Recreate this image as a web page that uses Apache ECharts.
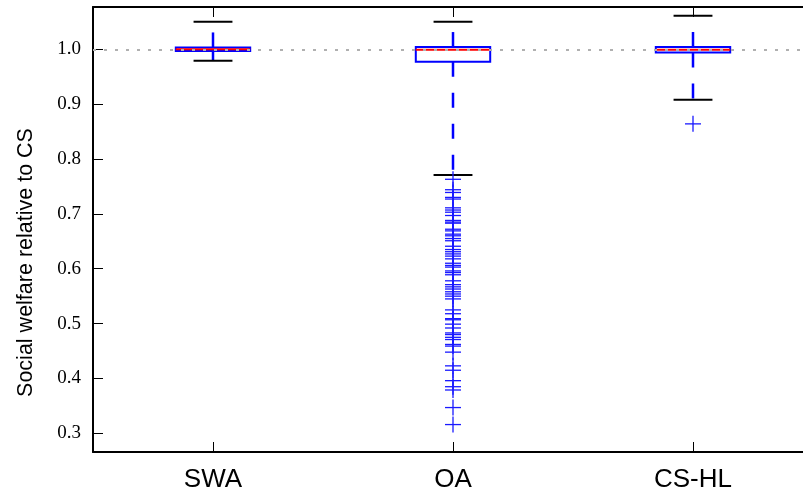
<!DOCTYPE html>
<html>
<head>
<meta charset="utf-8">
<script src="https://cdn.jsdelivr.net/npm/echarts@6/dist/echarts.min.js"></script>
<style>
html,body{margin:0;padding:0;background:#fff;}
#chart{width:803px;height:497px;}
</style>
</head>
<body>
<div id="chart"></div>
<script>
// ---- data ----
const categories = ['SWA', 'OA', 'CS-HL'];
const whiskerLow  = [0.979, 0.771, 0.908];
const q1          = [0.9967, 0.977, 0.994];
const median      = [1.000, 0.999, 0.999];
const q3          = [1.0033, 1.004, 1.004];
const whiskerHigh = [1.050, 1.050, 1.061];
const outliersSWA = [];
const outliersOA = [
  0.763, 0.744, 0.739, 0.730, 0.727, 0.711, 0.707, 0.703, 0.697, 0.688,
  0.685, 0.683, 0.672, 0.669, 0.663, 0.660, 0.655, 0.651, 0.641, 0.635,
  0.631, 0.627, 0.623, 0.618, 0.610, 0.606, 0.603, 0.596, 0.593, 0.589,
  0.578, 0.571, 0.567, 0.563, 0.558, 0.554, 0.550, 0.545, 0.525, 0.518,
  0.509, 0.507, 0.499, 0.492, 0.483, 0.480, 0.475, 0.471, 0.462, 0.459,
  0.448, 0.423, 0.415, 0.396, 0.385, 0.379, 0.347, 0.316
];
const outliersCSHL = [0.864];
const yTickValues = [0.3, 0.4, 0.5, 0.6, 0.7, 0.8, 0.9, 1.0];
const yMin = 0.266, yMax = 1.077;
const referenceValue = 1.0;
const yTitle = 'Social welfare relative to CS';

// ---- build ----
const boxData = categories.map((c, i) => [i, whiskerLow[i], q1[i], median[i], q3[i], whiskerHigh[i]]);
const outlierData = [];
[outliersSWA, outliersOA, outliersCSHL].forEach((arr, i) => arr.forEach(v => outlierData.push([i, v])));

function renderBox(params, api) {
  const idx = api.value(0);
  const band = api.size([1, 0])[0];
  const cx = api.coord([idx, api.value(3)])[0];
  const yLow = api.coord([idx, api.value(1)])[1];
  const yQ1 = api.coord([idx, api.value(2)])[1];
  const yMed = api.coord([idx, api.value(3)])[1];
  const yQ3 = api.coord([idx, api.value(4)])[1];
  const yHigh = api.coord([idx, api.value(5)])[1];
  const bw = band * 0.31;
  const cw = band * 0.162;
  const blue = '#0000ff';
  return {
    type: 'group',
    children: [
      {type: 'line', shape: {x1: cx, y1: yQ3, x2: cx, y2: yHigh},
       style: {stroke: blue, lineWidth: 2.5, lineDash: [15, 16]}},
      {type: 'line', shape: {x1: cx, y1: yQ1, x2: cx, y2: yLow},
       style: {stroke: blue, lineWidth: 2.5, lineDash: [15, 16]}},
      {type: 'rect', shape: {x: cx - bw / 2, y: yQ3, width: bw, height: yQ1 - yQ3},
       style: {stroke: blue, fill: null, lineWidth: 2}},
      {type: 'line', shape: {x1: cx - bw / 2, y1: yMed, x2: cx + bw / 2, y2: yMed},
       style: {stroke: '#ff0000', lineWidth: 2}},
      {type: 'line', shape: {x1: cx - cw / 2, y1: yHigh, x2: cx + cw / 2, y2: yHigh},
       style: {stroke: '#000', lineWidth: 2}},
      {type: 'line', shape: {x1: cx - cw / 2, y1: yLow, x2: cx + cw / 2, y2: yLow},
       style: {stroke: '#000', lineWidth: 2}}
    ]
  };
}

function renderPlus(params, api) {
  const p = api.coord([api.value(0), api.value(1)]);
  const h = 8;
  const st = {stroke: '#1a1aff', lineWidth: 1.3};
  return {
    type: 'group',
    children: [
      {type: 'line', shape: {x1: p[0] - h, y1: p[1], x2: p[0] + h, y2: p[1]}, style: st},
      {type: 'line', shape: {x1: p[0], y1: p[1] - h, x2: p[0], y2: p[1] + h}, style: st}
    ]
  };
}

const axisLineStyle = {show: true, lineStyle: {color: '#000', width: 2}};
const chart = echarts.init(document.getElementById('chart'), null, {renderer: 'canvas'});
chart.setOption({
  animation: false,
  backgroundColor: '#fff',
  grid: {left: 93, top: 7, width: 720, height: 445, containLabel: false, outerBoundsMode: 'none'},
  xAxis: [
    {type: 'category', data: categories, position: 'bottom', boundaryGap: true,
     axisLine: axisLineStyle,
     axisTick: {show: true, inside: true, alignWithLabel: true, length: 10, lineStyle: {color: '#000', width: 1}},
     axisLabel: {color: '#000', fontFamily: 'Liberation Sans', fontSize: 26, margin: 15},
     splitLine: {show: false}},
    {type: 'category', data: categories, position: 'top', boundaryGap: true,
     axisLine: axisLineStyle,
     axisTick: {show: true, inside: true, alignWithLabel: true, length: 10, lineStyle: {color: '#000', width: 1}},
     axisLabel: {show: false}, splitLine: {show: false}}
  ],
  yAxis: [
    {type: 'value', min: yMin, max: yMax, position: 'left',
     axisLine: axisLineStyle,
     axisTick: {show: true, inside: true, length: 10, customValues: yTickValues, lineStyle: {color: '#000', width: 1}},
     axisLabel: {customValues: yTickValues, formatter: v => v.toFixed(1), color: '#000',
                 fontFamily: 'Liberation Serif', fontSize: 19, margin: 12},
     splitLine: {show: false},
     name: yTitle, nameLocation: 'middle', nameGap: 56,
     nameTextStyle: {fontFamily: 'Liberation Sans', fontSize: 21.5, color: '#000', padding: [0, 66, 0, 0]}},
    {type: 'value', min: yMin, max: yMax, position: 'right',
     axisLine: axisLineStyle,
     axisTick: {show: true, inside: true, length: 10, customValues: yTickValues, lineStyle: {color: '#000', width: 1}},
     axisLabel: {show: false}, splitLine: {show: false}}
  ],
  series: [
    {type: 'custom', name: 'box', xAxisIndex: 0, yAxisIndex: 0, renderItem: renderBox, data: boxData, z: 2},
    {type: 'custom', name: 'outliers', xAxisIndex: 0, yAxisIndex: 0, renderItem: renderPlus, data: outlierData, z: 3},
    {type: 'line', name: 'ref', xAxisIndex: 0, yAxisIndex: 0, data: [], z: 5,
     markLine: {silent: true, symbol: 'none', label: {show: false},
       lineStyle: {color: '#b0b0b0', width: 2, type: [3, 8]},
       data: [{yAxis: referenceValue}]}}
  ]
});
</script>
</body>
</html>
